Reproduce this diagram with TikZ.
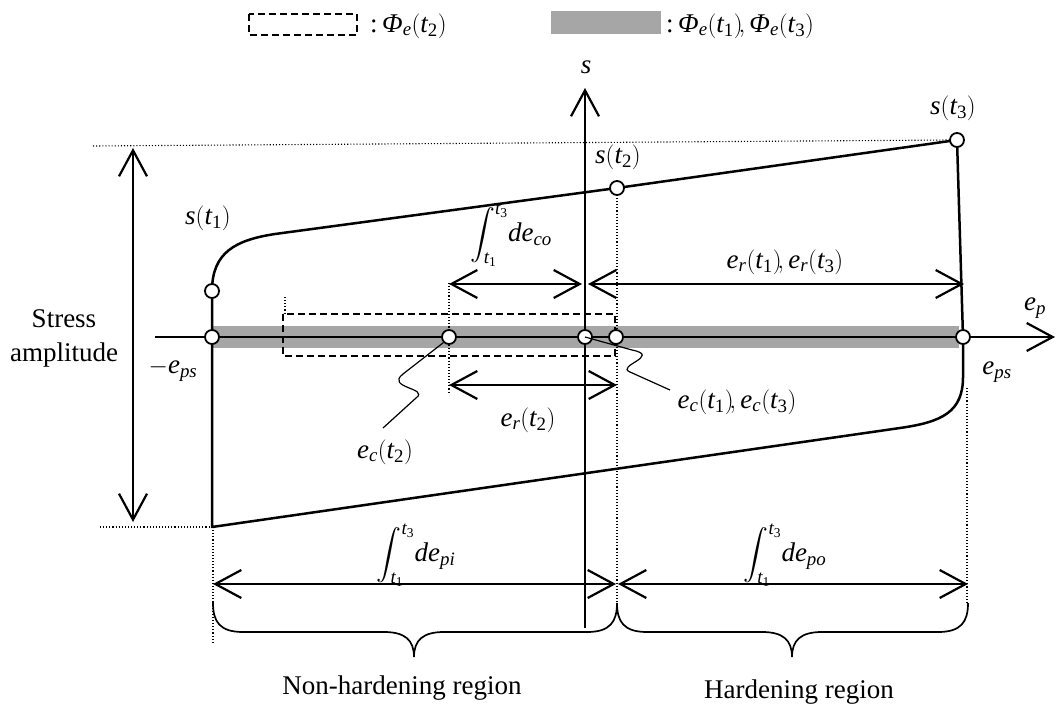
\documentclass[tikz,border=0pt]{standalone}
\usepackage{amsmath}
\usepackage{fontspec}
\setmainfont{Liberation Serif}
\usetikzlibrary{arrows.meta}
\newcommand{\vi}[1]{\textit{#1}}
\newcommand{\sbi}[1]{_{\textit{#1}}}
\newcommand{\sbr}[1]{_{\textrm{#1}}}
\newcommand{\tpar}[1]{{\left(\vi{t}\sbr{#1}\right)}}
\definecolor{bandgray}{RGB}{166,166,166}
\begin{document}
\begin{tikzpicture}[x=1pt,y=-1pt,font=\fontsize{27}{32}\selectfont,
  thickline/.style={line width=2.5pt,line join=round},
  dimarrow/.style={line width=2.2pt,{Straight Barb[length=26pt,width=28pt,line width=2.2pt]}-{Straight Barb[length=26pt,width=28pt,line width=2.2pt]}},
  axisarrow/.style={line width=2.2pt,-{Straight Barb[length=26pt,width=28pt,line width=2.2pt]}},
  dots/.style={line width=1.1pt,dash pattern=on 1.1pt off 2pt},
  pnt/.style={circle,draw,fill=white,line width=1.8pt,inner sep=0pt,minimum size=14pt},
  lbl/.style={inner sep=0pt},
  leader/.style={line width=1.2pt},
  bracestyle/.style={line width=1.7pt}]
\useasboundingbox (0,0) rectangle (1056,708);

% legend
\draw[line width=1.5pt,dash pattern=on 7pt off 4pt] (249,14) rectangle (357,35);
\node[lbl,anchor=west] (legA) at (370,26) {:\,$\textit{Φ}\sbi{e}\tpar{2}$};
\fill[bandgray] (551,11) rectangle (661,34);
\node[lbl,anchor=west] (legB) at (666,26) {:\,$\textit{Φ}\sbi{e}\tpar{1}\!,\textit{Φ}\sbi{e}\tpar{3}$};

% gray band and dashed rectangle
\fill[bandgray] (212,326) rectangle (959,348);
\draw[line width=1.5pt,dash pattern=on 7pt off 4pt] (283,314) rectangle (615,356);

% coordinates
\coordinate (eaL) at (155,337);
\coordinate (eaR) at (1055,337);
\coordinate (saB) at (585,628);
\coordinate (saT) at (585,88);

% axes
\draw[axisarrow] (eaL) -- (eaR);
\draw[axisarrow] (saB) -- (saT);

% dotted guide lines
\coordinate (dU1) at (93,146);  \coordinate (dU2) at (950,140);
\coordinate (dL1) at (100,527); \coordinate (dL2) at (212,527);
\coordinate (dV1a) at (213,527); \coordinate (dV1b) at (213,643);
\coordinate (dV2a) at (617,195); \coordinate (dV2b) at (617,605);
\coordinate (dV3a) at (967,388); \coordinate (dV3b) at (967,605);
\coordinate (dV4a) at (449,283); \coordinate (dV4b) at (449,392);
\coordinate (dV5a) at (285,297); \coordinate (dV5b) at (285,314);
\draw[dots] (dU1) -- (dU2);
\draw[dots] (dL1) -- (dL2);
\draw[dots] (dV1a) -- (dV1b);
\draw[dots] (dV2a) -- (dV2b);
\draw[dots] (dV3a) -- (dV3b);
\draw[dots] (dV4a) -- (dV4b);
\draw[dots] (dV5a) -- (dV5b);

% hysteresis loop
\coordinate (kneeU) at (275,234);
\coordinate (lowL) at (212,527);
\coordinate (kneeL) at (900,428);
\coordinate (bendR) at (963,377);
\draw[thickline] (212,291) .. controls (212,252) and (236,240) .. (kneeU) -- (617,188) -- (957,140);
\draw[thickline] (957,140) -- (963,337) -- (bendR) .. controls (963,412) and (942,422) .. (kneeL) -- (lowL) -- (212,291);

% dimension arrows
\coordinate (a1L) at (449,284); \coordinate (a1R) at (582,284);
\coordinate (a2L) at (588,284); \coordinate (a2R) at (964,284);
\coordinate (a3L) at (449,385); \coordinate (a3R) at (617,385);
\coordinate (a4T) at (133,148); \coordinate (a4B) at (133,522);
\coordinate (a5L) at (213,584); \coordinate (a5R) at (616,584);
\coordinate (a6L) at (618,584); \coordinate (a6R) at (968,584);
\draw[dimarrow] (a1L) -- (a1R);
\draw[dimarrow] (a2L) -- (a2R);
\draw[dimarrow] (a3L) -- (a3R);
\draw[dimarrow] (a4T) -- (a4B);
\draw[dimarrow] (a5L) -- (a5R);
\draw[dimarrow] (a6L) -- (a6R);

% braces
\draw[bracestyle] (213,603) .. controls (213,622) and (220,632) .. (243,632) -- (384,632)
  .. controls (405,632) and (414,640) .. (414,657) .. controls (414,640) and (423,632) .. (444,632)
  -- (587,632) .. controls (610,632) and (617,622) .. (617,603);
\draw[bracestyle] (617,603) .. controls (617,622) and (624,632) .. (647,632) -- (762,632)
  .. controls (783,632) and (792,640) .. (792,657) .. controls (792,640) and (801,632) .. (822,632)
  -- (938,632) .. controls (961,632) and (968,622) .. (968,603);

% points
\node[pnt] (c1) at (212,291) {};
\node[pnt] (c2) at (212,337) {};
\node[pnt] (c3) at (449,337) {};
\node[pnt] (c4) at (585,337) {};
\node[pnt] (c5) at (616,337) {};
\node[pnt] (c6) at (963,337) {};
\node[pnt] (c7) at (617,188) {};
\node[pnt] (c8) at (957,140) {};

% leaders
\node[lbl] (ec2) at (385,452) {$\vi{e}\sbi{c}\tpar{2}$};
\node[lbl] (ec13) at (737,402) {$\vi{e}\sbi{c}\tpar{1}\!,\vi{e}\sbi{c}\tpar{3}$};
\draw[leader] (c3.south west) -- (403,374) .. controls (385,388) and (430,388) .. (416,398) -- (383,428);
\draw[leader] (c4.center) -- (632,350) .. controls (662,356) and (615,366) .. (630,372) -- (670,390);

% labels
\node[lbl] (ls) at (586,67) {$\vi{s}$};
\node[lbl] (lep) at (1035,308) {$\vi{e}\sbi{p}$};
\node[lbl] (lmeps) at (173,370) {$-\vi{e}\sbi{ps}$};
\node[lbl] (leps) at (997,372) {$\vi{e}\sbi{ps}$};
\node[lbl] (ls1) at (208,218) {$\vi{s}\tpar{1}$};
\node[lbl] (ls2) at (618,157) {$\vi{s}\tpar{2}$};
\node[lbl] (ls3) at (953,108) {$\vi{s}\tpar{3}$};
\node[lbl] (lco) at (511,235) {$\displaystyle\int_{\vi{t}\sbr{1}}^{\vi{t}\sbr{3}}\!\vi{de}\sbi{co}$};
\node[lbl] (lr13) at (785,262) {$\vi{e}\sbi{r}\tpar{1}\!,\vi{e}\sbi{r}\tpar{3}$};
\node[lbl] (lr2) at (528,420) {$\vi{e}\sbi{r}\tpar{2}$};
\node[lbl] (lpi) at (416,555) {$\displaystyle\int_{\vi{t}\sbr{1}}^{\vi{t}\sbr{3}}\!\vi{de}\sbi{pi}$};
\node[lbl] (lpo) at (785,555) {$\displaystyle\int_{\vi{t}\sbr{1}}^{\vi{t}\sbr{3}}\!\vi{de}\sbi{po}$};
\node[lbl,align=center] (lsa) at (64,338) {Stress\\[2pt]amplitude};
\node[lbl] (lnh) at (402,688) {Non-hardening region};
\node[lbl] (lh) at (799,692) {Hardening region};
\end{tikzpicture}
\end{document}
